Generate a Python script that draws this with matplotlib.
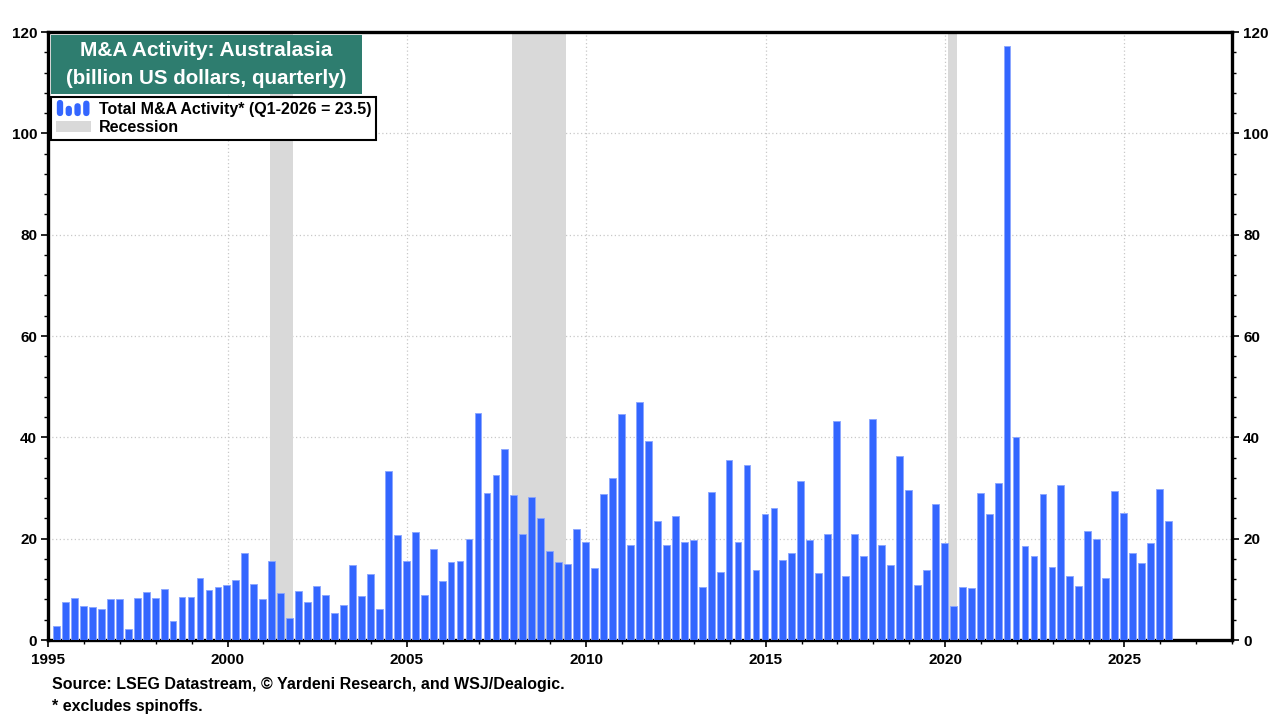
import matplotlib
matplotlib.use("Agg")
import matplotlib.pyplot as plt
from matplotlib.patches import Rectangle, FancyBboxPatch, Patch
from matplotlib.legend_handler import HandlerBase
from matplotlib.ticker import MultipleLocator

plt.rcParams['font.family'] = ['Liberation Sans', 'DejaVu Sans']
plt.rcParams['font.weight'] = 'bold'

# quarterly M&A activity, billion US$, 1995 Q1 .. 2026 Q1
start_year = 1995
values = [
    2.8, 7.6, 8.2, 6.8, 6.6, 6.2, 8.0, 8.0,          # 1995-1996
    2.2, 8.2, 9.4, 8.2, 10.0, 3.8, 8.4, 8.4,         # 1997-1998
    12.3, 9.8, 10.4, 10.8, 11.9, 17.1, 11.1, 8.0,    # 1999-2000
    15.5, 9.2, 4.4, 9.6, 7.6, 10.6, 8.8, 5.4,        # 2001-2002
    6.9, 14.9, 8.6, 13.1, 6.2, 33.3, 20.7, 15.5,     # 2003-2004
    21.4, 8.9, 17.9, 11.7, 15.3, 15.5, 19.9, 44.8,   # 2005-2006
    29.0, 32.5, 37.7, 28.6, 21.0, 28.2, 24.0, 17.5,  # 2007-2008
    15.3, 15.1, 22.0, 19.3, 14.3, 28.8, 31.9, 44.6,  # 2009-2010
    18.8, 46.9, 39.3, 23.4, 18.8, 24.4, 19.4, 19.8,  # 2011-2012
    10.4, 29.3, 13.5, 35.5, 19.4, 34.5, 13.9, 24.9,  # 2013-2014
    26.0, 15.7, 17.1, 31.3, 19.8, 13.2, 21.0, 43.2,  # 2015-2016
    12.7, 21.0, 16.5, 43.6, 18.8, 14.9, 36.3, 29.6,  # 2017-2018
    10.9, 13.8, 26.9, 19.1, 6.7, 10.4, 10.3, 29.0,   # 2019-2020
    24.9, 30.9, 117.2, 40.1, 18.6, 16.6, 28.9, 14.4, # 2021-2022
    30.5, 12.7, 10.7, 21.5, 19.9, 12.2, 29.5, 25.1,  # 2023-2024
    17.2, 15.2, 19.1, 29.9,                          # 2025
    23.5,                                            # 2026 Q1
]
rec_start = [2001.17, 2007.92, 2020.08]
rec_end = [2001.83, 2009.42, 2020.33]

# bars sit at the quarter end date
dates = [start_year + (i + 1) * 0.25 - 0.02 for i in range(len(values))]

bar_color = '#3366ff'
rec_color = '#d9d9d9'

fig = plt.figure(figsize=(12.8, 7.2), dpi=100)
ax = fig.add_axes([0.0377, 0.1111, 0.9248, 0.8444])

for s, e in zip(rec_start, rec_end):
    ax.axvspan(s, e, color=rec_color, lw=0, zorder=1)

ax.bar(dates, values, width=0.19, color=bar_color, edgecolor='#8aa6ff',
       linewidth=0.6, joinstyle='round', zorder=3)

ax.set_xlim(1995, 2028)
ax.set_ylim(0, 120)
ax.xaxis.set_major_locator(MultipleLocator(5))
ax.xaxis.set_minor_locator(MultipleLocator(1))
ax.yaxis.set_major_locator(MultipleLocator(20))
ax.yaxis.set_minor_locator(MultipleLocator(4))
ax.grid(True, which='major', linestyle=(0, (1, 2)), color='#c8c8c8', lw=0.9, zorder=0)
ax.set_axisbelow(True)

for sp in ax.spines.values():
    sp.set_linewidth(2.4)
ax.tick_params(which='major', length=5, width=1.2, labelsize=11, direction='out')
ax.tick_params(which='minor', length=3, width=1.0, direction='out')
ax.tick_params(axis='y', which='both', left=True, right=True, labelleft=True, labelright=True, pad=3)
ax.tick_params(axis='x', pad=4)
for lab in ax.get_xticklabels() + ax.get_yticklabels():
    lab.set_fontweight('bold')

# title box
ax.add_patch(Rectangle((0.0023, 0.898), 0.2627, 0.097, transform=ax.transAxes,
                       facecolor='#2e7d6f', edgecolor='none', zorder=5))
ax.text(0.1336, 0.970, 'M&A Activity: Australasia', transform=ax.transAxes,
        ha='center', va='center', color='white', fontsize=15, fontweight='bold', zorder=6)
ax.text(0.1336, 0.924, '(billion US dollars, quarterly)', transform=ax.transAxes,
        ha='center', va='center', color='white', fontsize=14.8, fontweight='bold', zorder=6)


class BarsHandler(HandlerBase):
    # little bar-chart icon for the legend
    def create_artists(self, legend, orig_handle, xdescent, ydescent,
                       width, height, fontsize, trans):
        arts = []
        fracs = [1.0, 0.64, 0.8, 0.96]
        w = width / 4.0
        for k, f in enumerate(fracs):
            h = height * 1.45 * f
            p = FancyBboxPatch((-xdescent + k * w + w * 0.12, -ydescent - height * 0.2),
                               w * 0.72, h, boxstyle='round,pad=0,rounding_size=2.5',
                               facecolor=bar_color, edgecolor='none', transform=trans)
            arts.append(p)
        return arts


bar_handle = Patch(facecolor=bar_color)
rec_handle = Patch(facecolor=rec_color, edgecolor='none')
leg = ax.legend([bar_handle, rec_handle],
                ['Total M&A Activity* (Q1-2026 = 23.5)', 'Recession'],
                handler_map={bar_handle: BarsHandler()},
                loc='upper left', bbox_to_anchor=(0.0023, 0.893), borderaxespad=0,
                frameon=True, fancybox=False, edgecolor='black', framealpha=1,
                prop={'size': 11.5, 'weight': 'bold'}, handlelength=2.2,
                handletextpad=0.5, labelspacing=0.2, borderpad=0.3)
leg.get_frame().set_linewidth(1.5)
leg.set_zorder(6)

fig.text(0.0405, 0.049, 'Source: LSEG Datastream, \u00a9 Yardeni Research, and WSJ/Dealogic.',
         fontsize=11.5, fontweight='bold', va='center')
fig.text(0.0405, 0.019, '* excludes spinoffs.', fontsize=11.5, fontweight='bold', va='center')

fig.savefig('out.png', dpi=100)
